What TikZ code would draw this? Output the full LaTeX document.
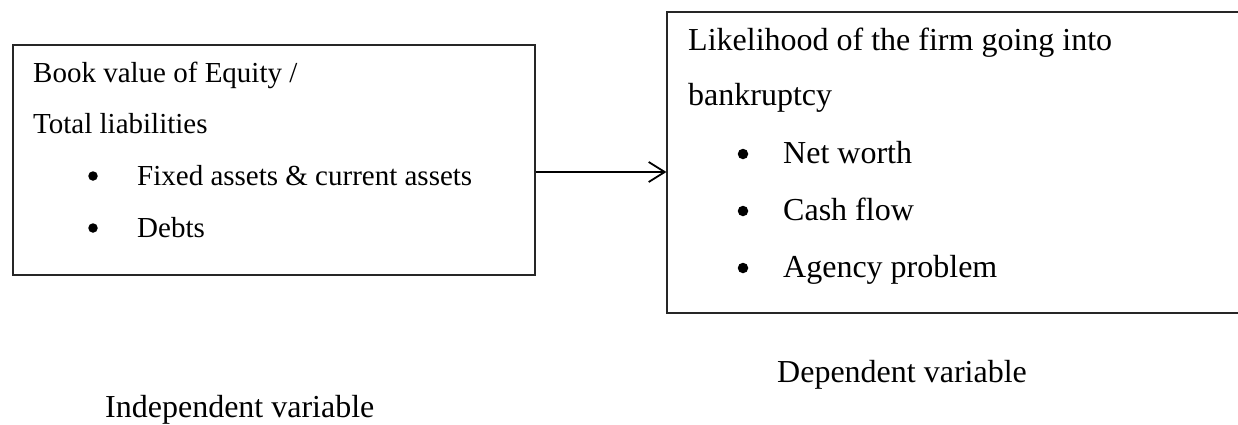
\documentclass[tikz,border=0pt]{standalone}
\usepackage{fontspec}
\setmainfont{Liberation Serif}
\usetikzlibrary{arrows.meta}
\tikzset{
  boxline/.style={draw=black!85,line width=1.2pt,inner sep=0pt,rectangle},
  txtL/.style={anchor=base west,inner sep=0pt,font=\fontsize{29}{35}\selectfont},
  txtR/.style={anchor=base west,inner sep=0pt,font=\fontsize{32}{38}\selectfont},
  bulL/.style={circle,fill=black,inner sep=0pt,minimum size=9.5pt},
  bulR/.style={circle,fill=black,inner sep=0pt,minimum size=10.5pt},
  arr/.style={line width=1.8pt,-{Straight Barb[length=16pt,width=20pt,line width=1.8pt]}}
}
\begin{document}
\begin{tikzpicture}[x=1pt,y=-1pt]
\useasboundingbox (0,0) rectangle (1238,424);
\clip (0,0) rectangle (1238,424);
% boxes
\node[boxline,minimum width=522pt,minimum height=230pt] (lbox) at (274,160) {};
\node[boxline,minimum width=600pt,minimum height=301pt] (rbox) at (967,162.5) {};
% left texts
\node[txtL] (l1) at (33,82) {Book value of Equity /};
\node[txtL] (l2) at (33,133) {Total liabilities};
\node[bulL] (lb1) at (93,176) {};
\node[txtL] (l3) at (137,185) {Fixed assets \& current assets};
\node[bulL] (lb2) at (93,228) {};
\node[txtL] (l4) at (137,237) {Debts};
% right texts
\node[txtR] (r1) at (688,50) {Likelihood of the firm going into};
\node[txtR] (r2) at (688,105) {bankruptcy};
\node[bulR] (rb1) at (743,154) {};
\node[txtR] (r3) at (783,163) {Net worth};
\node[bulR] (rb2) at (743,211) {};
\node[txtR] (r4) at (783,220) {Cash flow};
\node[bulR] (rb3) at (743,268) {};
\node[txtR] (r5) at (783,277) {Agency problem};
% labels
\node[txtR] (dep) at (777,382) {Dependent variable};
\node[txtR] (indep) at (105,417) {Independent variable};
% connector
\coordinate (a) at ([yshift=-12pt]lbox.east);
\draw[arr] (a) -- (a -| rbox.west);
\end{tikzpicture}
\end{document}
